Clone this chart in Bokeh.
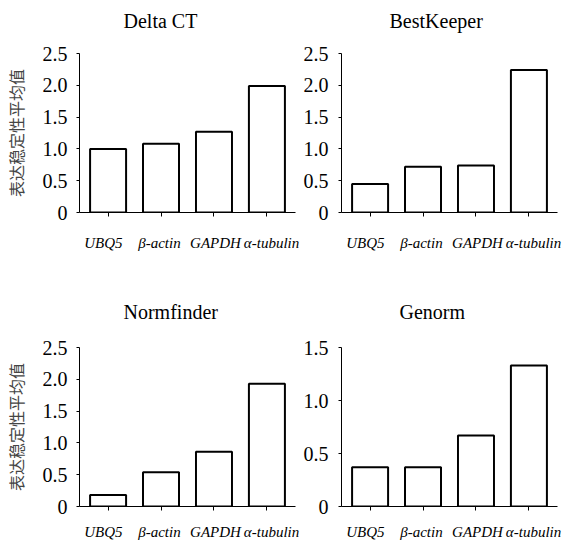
from bokeh.plotting import figure
from bokeh.models import (FactorRange, CategoricalAxis, FixedTicker, Title,
                          CustomJSTickFormatter, Range1d, ColumnDataSource)
from bokeh.layouts import gridplot
from bokeh.embed import file_html
from bokeh.resources import INLINE

# ---- data ----
genes = ["UBQ5", "β-actin", "GAPDH", "α-tubulin"]
delta_ct = [1.00, 1.08, 1.27, 1.99]
bestkeeper = [0.45, 0.72, 0.74, 2.24]
normfinder = [0.18, 0.54, 0.86, 1.93]
genorm = [0.37, 0.37, 0.67, 1.33]
titles = ["Delta CT", "BestKeeper", "Normfinder", "Genorm"]
y_ticks_25 = [0, 0.5, 1.0, 1.5, 2.0, 2.5]
y_ticks_15 = [0, 0.5, 1.0, 1.5]
y_label = "表达稳定性平均值"

SERIF = "Liberation Serif"


def panel(title, values, yticks, b_left, b_right, b_top, b_bottom,
          title_offset, title_gap, tick_standoff, lab_standoff, ylabel=None):
    p = figure(x_range=FactorRange(*genes, range_padding=0.02),
               y_range=Range1d(0, yticks[-1]),
               frame_width=216, frame_height=159, output_backend="svg",
               toolbar_location=None, title=None,
               min_border_left=b_left, min_border_right=b_right,
               min_border_top=b_top, min_border_bottom=b_bottom)
    p.outline_line_color = None
    p.xgrid.visible = False
    p.ygrid.visible = False
    p.background_fill_color = "white"
    p.border_fill_color = "white"

    # spacer axis next to the frame (white ticks on white border give it height),
    # the title is stacked outside it
    spacer = CategoricalAxis(axis_line_color=None, major_tick_line_color="white",
                             minor_tick_line_color=None, major_tick_out=title_gap,
                             major_tick_in=0, major_label_text_color=None,
                             major_label_text_font_size="1px",
                             major_label_standoff=0)
    p.add_layout(spacer, "above")
    p.add_layout(Title(text=title, align="left", offset=title_offset, standoff=0,
                       text_font=SERIF, text_font_size="20px",
                       text_font_style="normal", text_color="black"), "above")

    src = ColumnDataSource(dict(gene=genes, value=values))
    p.vbar(x="gene", top="value", width=0.68, source=src,
           fill_color="white", line_color="black", line_width=2)

    xa = p.below[0]
    xa.axis_line_color = "black"
    xa.axis_line_width = 1
    xa.major_tick_out = 4
    xa.major_tick_in = 0
    xa.major_tick_line_color = "black"
    xa.minor_tick_line_color = None
    xa.major_label_text_color = None
    xa.major_label_text_font_size = "1px"
    xa.major_label_standoff = 0

    p.extra_x_ranges = {"lab": FactorRange(*genes, factor_padding=0.17)}
    la = CategoricalAxis(x_range_name="lab", axis_line_color=None,
                         major_tick_line_color=None, minor_tick_line_color=None,
                         major_label_text_font=SERIF,
                         major_label_text_font_style="italic",
                         major_label_text_font_size="15px",
                         major_label_text_color="black",
                         major_label_standoff=lab_standoff)
    p.add_layout(la, "below")

    ya = p.yaxis[0]
    ya.ticker = FixedTicker(ticks=yticks)
    ya.formatter = CustomJSTickFormatter(code="return tick == 0 ? '0' : tick.toFixed(1);")
    ya.axis_line_color = "black"
    ya.axis_line_width = 1
    ya.major_tick_out = 3
    ya.major_tick_in = 0
    ya.minor_tick_line_color = None
    ya.major_label_text_font = SERIF
    ya.major_label_text_font_size = "20px"
    ya.major_label_text_color = "black"
    ya.major_label_standoff = tick_standoff
    if ylabel:
        ya.axis_label = ylabel
        ya.axis_label_text_font = "Noto Sans CJK SC"
        ya.axis_label_text_font_size = "16px"
        ya.axis_label_text_font_style = "normal"
        ya.axis_label_text_color = "#444444"
        ya.axis_label_standoff = 12
    return p


p1 = panel(titles[0], delta_ct, y_ticks_25, 71, 5, 53, 60, 44, 22, 9, 12, y_label)
p2 = panel(titles[1], bestkeeper, y_ticks_25, 40, 20, 53, 60, 48, 22, 10, 12)
p3 = panel(titles[2], normfinder, y_ticks_25, 71, 5, 75, 34, 44, 25, 9, 7, y_label)
p4 = panel(titles[3], genorm, y_ticks_15, 40, 20, 75, 34, 58, 25, 10, 7)

grid = gridplot([[p1, p2], [p3, p4]], toolbar_location=None)

open("out.html", "w").write(file_html(grid, INLINE))
